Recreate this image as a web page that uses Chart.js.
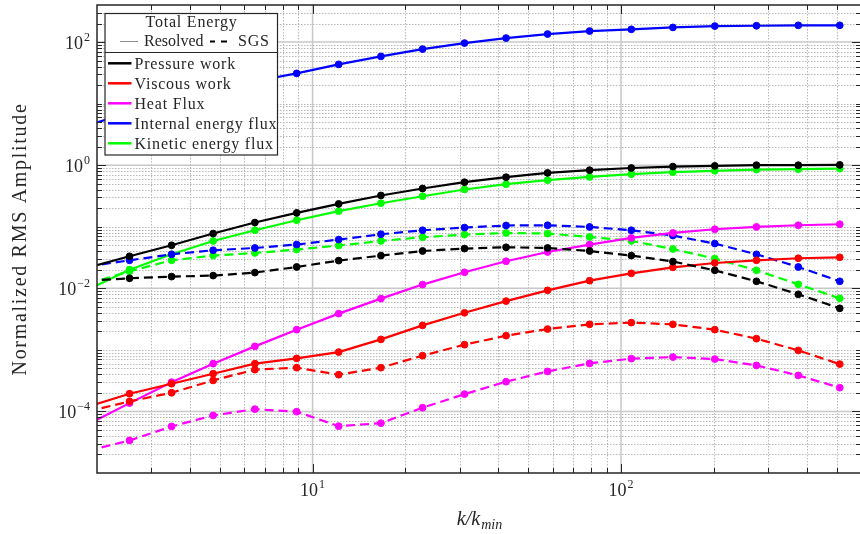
<!DOCTYPE html>
<html>
<head>
<meta charset="utf-8">
<script src="https://cdn.jsdelivr.net/npm/chart.js@4.4.0/dist/chart.umd.min.js"></script>
<style>
  html, body { margin: 0; padding: 0; background: #fff; overflow: hidden; }
  #wrap { width: 860px; height: 534px; overflow: hidden; }
</style>
</head>
<body>
<div id="wrap"><canvas id="chart" width="866" height="534"></canvas></div>
<script>
// k / k_min of each sample (first one sits just left of the axis and is clipped)
const kValues = [1.87, 2.55, 3.49, 4.76, 6.5, 8.88, 12.15, 16.66, 22.73, 31.09, 42.4, 57.8, 79.1, 108, 147.3, 201.4, 274.9, 375.7, 512];

// resolved (solid)
const pressureResolved = [0.0217, 0.0331, 0.050, 0.0775, 0.117, 0.168, 0.235, 0.322, 0.418, 0.529, 0.638, 0.75, 0.83, 0.90, 0.95, 0.975, 1.0, 1.0, 1.01];
const viscousResolved = [1.2e-4, 1.94e-4, 2.82e-4, 4.1e-4, 5.97e-4, 7.28e-4, 9.2e-4, 1.48e-3, 2.5e-3, 4.0e-3, 6.2e-3, 9.27e-3, 0.0133, 0.0175, 0.0219, 0.0258, 0.0285, 0.0308, 0.0319];
const heatResolved = [6.15e-5, 1.365e-4, 2.99e-4, 5.97e-4, 1.14e-3, 2.13e-3, 3.88e-3, 6.8e-3, 0.0115, 0.0182, 0.0275, 0.0389, 0.0514, 0.0658, 0.0793, 0.091, 0.0993, 0.1057, 0.1099];
const internalResolved = [4.5, 7.14, 11.0, 16.3, 23.1, 31, 43.4, 58.5, 76.9, 96.3, 116, 135, 151, 161, 173, 182, 184, 187, 187];
const kineticResolved = [0.0095, 0.0201, 0.0357, 0.0588, 0.0877, 0.1276, 0.179, 0.241, 0.313, 0.403, 0.491, 0.570, 0.645, 0.714, 0.77, 0.81, 0.85, 0.86, 0.88];

// SGS (dashed)
const pressureSgs = [0.0133, 0.01455, 0.0155, 0.0161, 0.018, 0.0222, 0.0282, 0.034, 0.0404, 0.0442, 0.0464, 0.0452, 0.0404, 0.034, 0.0272, 0.0196, 0.013, 0.008, 0.00473];
const viscousSgs = [1.0e-4, 1.455e-4, 2.01e-4, 3.19e-4, 4.77e-4, 5.14e-4, 3.95e-4, 5.14e-4, 8.05e-4, 1.215e-3, 1.70e-3, 2.18e-3, 2.6e-3, 2.77e-3, 2.6e-3, 2.13e-3, 1.52e-3, 9.8e-4, 5.87e-4];
const heatSgs = [2.3e-5, 3.38e-5, 5.7e-5, 8.6e-5, 1.09e-4, 9.9e-5, 5.77e-5, 6.45e-5, 1.15e-4, 1.91e-4, 3.04e-4, 4.47e-4, 6.03e-4, 7.2e-4, 7.64e-4, 7.08e-4, 5.6e-4, 3.85e-4, 2.43e-4];
const internalSgs = [0.0228, 0.0285, 0.0357, 0.0415, 0.0452, 0.0514, 0.0619, 0.0755, 0.0877, 0.097, 0.1047, 0.1057, 0.0993, 0.0877, 0.0719, 0.0533, 0.0357, 0.0222, 0.013];
const kineticSgs = [0.0118, 0.0189, 0.0285, 0.034, 0.0375, 0.0426, 0.0495, 0.0588, 0.0675, 0.0746, 0.0793, 0.0775, 0.0683, 0.0588, 0.0435, 0.0304, 0.0196, 0.0116, 0.00687];

const seriesNames = ['Pressure work', 'Viscous work', 'Heat Flux', 'Internal energy flux', 'Kinetic energy flux'];
const seriesColors = ['#000000', '#ff0000', '#ff00ff', '#0000ff', '#00ff00'];
const resolvedData = [pressureResolved, viscousResolved, heatResolved, internalResolved, kineticResolved];
const sgsData = [pressureSgs, viscousSgs, heatSgs, internalSgs, kineticSgs];

// axis ticks
const xRange = [2, 600];
const yRange = [1e-5, 400];
const xMajorTicks = [10, 100];
const xTickExp = ['1', '2'];
const yMajorTicks = [1e-4, 1e-2, 1, 100];
const yTickExp = ['\u22124', '\u22122', '0', '2'];
const xDecades = [1, 10, 100];
const yDecades = [1e-5, 1e-4, 1e-3, 1e-2, 1e-1, 1, 10, 100];

const SERIF = '"Liberation Serif", "Times New Roman", serif';
const AXIS = '#262626';

function minorTicks(decades, lo, hi, majors) {
    const out = [];
    decades.forEach(d => {
        for (let m = 1; m <= 9; m++) {
            const v = d * m;
            if (v > lo && v < hi && !majors.some(t => Math.abs(t - v) / v < 1e-9)) out.push(v);
        }
    });
    return out;
}
const xMinorTicks = minorTicks(xDecades, xRange[0], xRange[1], xMajorTicks);
const yMinorTicks = minorTicks(yDecades, yRange[0], yRange[1], yMajorTicks);

function seg(ctx, x1, y1, x2, y2) {
    ctx.beginPath(); ctx.moveTo(x1, y1); ctx.lineTo(x2, y2); ctx.stroke();
}

// "10" with a raised exponent
function drawPower(ctx, exp, x, y, align) {
    ctx.font = '18px ' + SERIF;
    const wBase = ctx.measureText('10').width;
    ctx.font = '12px ' + SERIF;
    const wExp = ctx.measureText(exp).width;
    const total = wBase + 1 + wExp;
    let left = x;
    if (align === 'right') left = x - total;
    if (align === 'center') left = x - total / 2;
    ctx.fillStyle = AXIS;
    ctx.textAlign = 'left';
    ctx.textBaseline = 'alphabetic';
    ctx.font = '18px ' + SERIF;
    ctx.fillText('10', left, y);
    ctx.font = '12px ' + SERIF;
    ctx.fillText(exp, left + wBase + 1, y - 8);
}

const axesPlugin = {
    id: 'matlabAxes',
    beforeDatasetsDraw(chart) {
        const { ctx, chartArea: a, scales: { x, y } } = chart;
        ctx.save();
        ctx.lineWidth = 1;
        ctx.strokeStyle = '#b8b8b8';
        ctx.setLineDash([1.5, 1.5]);
        xMinorTicks.forEach(v => {
            const px = Math.round(x.getPixelForValue(v)) + 0.5;
            seg(ctx, px, a.top, px, a.bottom);
        });
        yMinorTicks.forEach(v => {
            const py = Math.round(y.getPixelForValue(v)) + 0.5;
            seg(ctx, a.left, py, a.right, py);
        });
        ctx.setLineDash([]);
        ctx.strokeStyle = '#c8c8c8';
        ctx.lineWidth = 1.5;
        xMajorTicks.forEach(v => {
            const px = x.getPixelForValue(v);
            seg(ctx, px, a.top, px, a.bottom);
        });
        yMajorTicks.forEach(v => {
            const py = y.getPixelForValue(v);
            seg(ctx, a.left, py, a.right, py);
        });
        ctx.restore();
    },
    afterDatasetsDraw(chart) {
        const { ctx, chartArea: a, scales: { x, y } } = chart;
        ctx.save();
        // frame + inward ticks
        ctx.strokeStyle = AXIS;
        ctx.lineWidth = 1.5;
        ctx.strokeRect(a.left, a.top, a.right - a.left, a.bottom - a.top);
        ctx.lineWidth = 1;
        const tickX = (v, len) => {
            const px = Math.round(x.getPixelForValue(v)) + 0.5;
            seg(ctx, px, a.bottom, px, a.bottom - len);
            seg(ctx, px, a.top, px, a.top + len);
        };
        const tickY = (v, len) => {
            const py = Math.round(y.getPixelForValue(v)) + 0.5;
            seg(ctx, a.left, py, a.left + len, py);
            seg(ctx, a.right, py, a.right - len, py);
        };
        xMinorTicks.forEach(v => tickX(v, 5));
        xMajorTicks.forEach(v => tickX(v, 9));
        yMinorTicks.forEach(v => tickY(v, 5));
        yMajorTicks.forEach(v => tickY(v, 9));

        // tick labels
        xMajorTicks.forEach((v, i) => drawPower(ctx, xTickExp[i], x.getPixelForValue(v), a.bottom + 23, 'center'));
        yMajorTicks.forEach((v, i) => drawPower(ctx, yTickExp[i], 90, y.getPixelForValue(v) + 6.6, 'right'));

        // axis titles
        ctx.fillStyle = AXIS;
        ctx.font = 'italic 20px ' + SERIF;
        const w1 = ctx.measureText('k/k').width;
        ctx.font = 'italic 14px ' + SERIF;
        const w2 = ctx.measureText('min').width;
        const cx = (a.left + 857) / 2 + 2;
        ctx.textAlign = 'left';
        ctx.font = 'italic 20px ' + SERIF;
        ctx.fillText('k/k', cx - (w1 + w2) / 2, 525);
        ctx.font = 'italic 14px ' + SERIF;
        ctx.fillText('min', cx - (w1 + w2) / 2 + w1 + 1, 529);

        ctx.translate(26, (a.top + a.bottom) / 2);
        ctx.rotate(-Math.PI / 2);
        ctx.font = '20px ' + SERIF;
        ctx.letterSpacing = '1.7px';
        ctx.textAlign = 'center';
        ctx.fillText('Normalized RMS Amplitude', 0, 0);
        ctx.restore();

        drawLegend(ctx);
    }
};

function drawLegend(ctx) {
    const L = 105, T = 13.5, R = 277.5, B = 155;
    ctx.save();
    ctx.fillStyle = '#ffffff';
    ctx.fillRect(L, T, R - L, B - T);
    ctx.strokeStyle = AXIS;
    ctx.lineWidth = 1.2;
    ctx.strokeRect(L, T, R - L, B - T);
    seg(ctx, L, 52.5, R, 52.5);

    ctx.font = '16px ' + SERIF;
    ctx.letterSpacing = '0.8px';
    ctx.fillStyle = AXIS;
    ctx.textBaseline = 'alphabetic';
    ctx.textAlign = 'center';
    ctx.fillText('Total Energy', 191.5, 27);
    ctx.textAlign = 'left';
    ctx.strokeStyle = '#8c8c8c';
    ctx.lineWidth = 1;
    seg(ctx, 120, 41.5, 138, 41.5);
    ctx.letterSpacing = '0px';
    ctx.fillText('Resolved', 144, 46);
    ctx.strokeStyle = '#000';
    ctx.lineWidth = 2;
    seg(ctx, 210, 41.5, 215, 41.5);
    seg(ctx, 221, 41.5, 227, 41.5);
    ctx.letterSpacing = '0.8px';
    ctx.fillText('SGS', 238, 46);

    seriesNames.forEach((name, i) => {
        const yy = 63.3 + i * 20;
        ctx.strokeStyle = seriesColors[i];
        ctx.lineWidth = 2.5;
        seg(ctx, 108, yy, 131.5, yy);
        ctx.fillStyle = AXIS;
        ctx.fillText(name, 134.5, yy + 5.2);
    });
    ctx.restore();
}

function makeSet(label, color, values, dash) {
    return {
        label: label,
        data: kValues.map((k, i) => ({ x: k, y: values[i] })),
        borderColor: color,
        backgroundColor: color,
        borderWidth: 2.2,
        borderDash: dash,
        pointRadius: 3.4,
        pointBorderWidth: 1,
        pointBorderColor: color,
        pointBackgroundColor: color,
        tension: 0,
        clip: 0
    };
}

const datasets = [];
seriesNames.forEach((name, i) => {
    datasets.push(makeSet(name, seriesColors[i], resolvedData[i], []));
    datasets.push(makeSet(name + ' (SGS)', seriesColors[i], sgsData[i], [9, 5]));
});

new Chart(document.getElementById('chart'), {
    type: 'line',
    data: { datasets: datasets },
    options: {
        responsive: false,
        animation: false,
        devicePixelRatio: 1,
        layout: { padding: { left: 97, top: 5, right: 1, bottom: 61 } },
        scales: {
            x: { type: 'logarithmic', min: xRange[0], max: xRange[1], display: false },
            y: { type: 'logarithmic', min: yRange[0], max: yRange[1], display: false }
        },
        plugins: { legend: { display: false }, tooltip: { enabled: false } }
    },
    plugins: [axesPlugin]
});
</script>
</body>
</html>
